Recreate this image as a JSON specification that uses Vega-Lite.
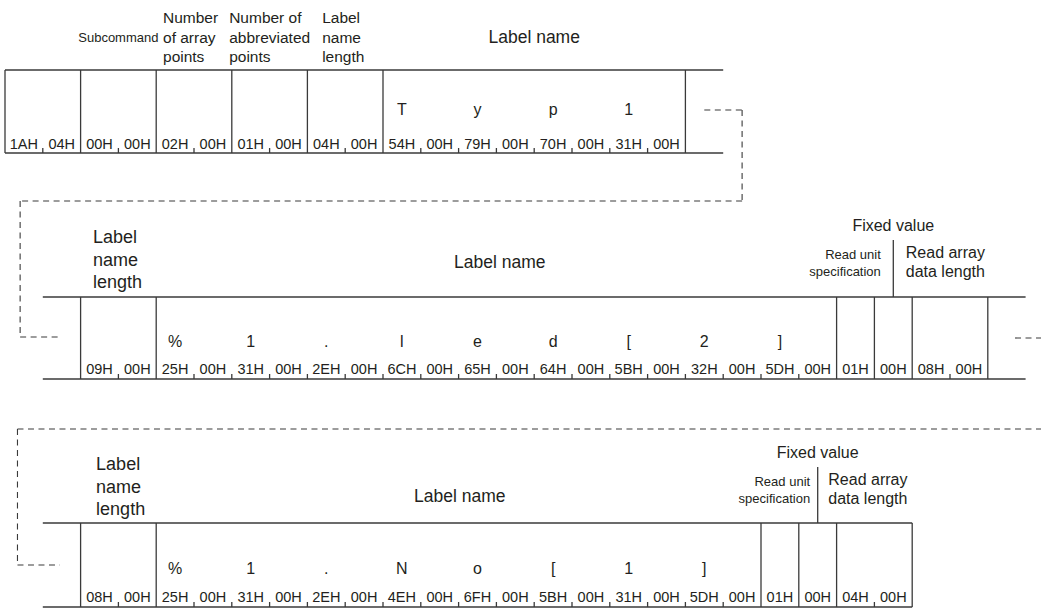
{
  "$schema": "https://vega.github.io/schema/vega-lite/v6.json",
  "width": 1041,
  "height": 608,
  "autosize": {"type": "none"},
  "padding": 0,
  "background": "white",
  "config": {"view": {"stroke": null}, "text": {"font": "Liberation Sans", "color": "#231f20"}},
  "datasets": {
    "solid": [
      {"x": 0, "y": 70, "x2": 19, "y2": 70}, {"x": 0, "y": 153, "x2": 19, "y2": 153},
      {"x": 0, "y": 70, "x2": 0, "y2": 153}, {"x": 2, "y": 70, "x2": 2, "y2": 153}, {"x": 4, "y": 70, "x2": 4, "y2": 153},
      {"x": 6, "y": 70, "x2": 6, "y2": 153}, {"x": 8, "y": 70, "x2": 8, "y2": 153}, {"x": 10, "y": 70, "x2": 10, "y2": 153},
      {"x": 18, "y": 70, "x2": 18, "y2": 153},
      {"x": 1, "y": 148, "x2": 1, "y2": 153}, {"x": 3, "y": 148, "x2": 3, "y2": 153}, {"x": 5, "y": 148, "x2": 5, "y2": 153},
      {"x": 7, "y": 148, "x2": 7, "y2": 153}, {"x": 9, "y": 148, "x2": 9, "y2": 153}, {"x": 11, "y": 148, "x2": 11, "y2": 153},
      {"x": 12, "y": 148, "x2": 12, "y2": 153}, {"x": 13, "y": 148, "x2": 13, "y2": 153}, {"x": 14, "y": 148, "x2": 14, "y2": 153},
      {"x": 15, "y": 148, "x2": 15, "y2": 153}, {"x": 16, "y": 148, "x2": 16, "y2": 153}, {"x": 17, "y": 148, "x2": 17, "y2": 153},

      {"x": 1, "y": 297, "x2": 27, "y2": 297}, {"x": 1, "y": 379, "x2": 27, "y2": 379},
      {"x": 2, "y": 297, "x2": 2, "y2": 379}, {"x": 4, "y": 297, "x2": 4, "y2": 379}, {"x": 22, "y": 297, "x2": 22, "y2": 379},
      {"x": 23, "y": 297, "x2": 23, "y2": 379}, {"x": 24, "y": 297, "x2": 24, "y2": 379}, {"x": 26, "y": 297, "x2": 26, "y2": 379},
      {"x": 3, "y": 374, "x2": 3, "y2": 379}, {"x": 5, "y": 374, "x2": 5, "y2": 379}, {"x": 6, "y": 374, "x2": 6, "y2": 379},
      {"x": 7, "y": 374, "x2": 7, "y2": 379}, {"x": 8, "y": 374, "x2": 8, "y2": 379}, {"x": 9, "y": 374, "x2": 9, "y2": 379},
      {"x": 10, "y": 374, "x2": 10, "y2": 379}, {"x": 11, "y": 374, "x2": 11, "y2": 379}, {"x": 12, "y": 374, "x2": 12, "y2": 379},
      {"x": 13, "y": 374, "x2": 13, "y2": 379}, {"x": 14, "y": 374, "x2": 14, "y2": 379}, {"x": 15, "y": 374, "x2": 15, "y2": 379},
      {"x": 16, "y": 374, "x2": 16, "y2": 379}, {"x": 17, "y": 374, "x2": 17, "y2": 379}, {"x": 18, "y": 374, "x2": 18, "y2": 379},
      {"x": 19, "y": 374, "x2": 19, "y2": 379}, {"x": 20, "y": 374, "x2": 20, "y2": 379}, {"x": 21, "y": 374, "x2": 21, "y2": 379},
      {"x": 25, "y": 374, "x2": 25, "y2": 379},
      {"x": 23.5, "y": 240, "x2": 23.5, "y2": 297},

      {"x": 1, "y": 523, "x2": 24, "y2": 523}, {"x": 1, "y": 607, "x2": 24, "y2": 607},
      {"x": 2, "y": 523, "x2": 2, "y2": 607}, {"x": 4, "y": 523, "x2": 4, "y2": 607}, {"x": 20, "y": 523, "x2": 20, "y2": 607},
      {"x": 21, "y": 523, "x2": 21, "y2": 607}, {"x": 22, "y": 523, "x2": 22, "y2": 607}, {"x": 24, "y": 523, "x2": 24, "y2": 607},
      {"x": 3, "y": 602, "x2": 3, "y2": 607}, {"x": 5, "y": 602, "x2": 5, "y2": 607}, {"x": 6, "y": 602, "x2": 6, "y2": 607},
      {"x": 7, "y": 602, "x2": 7, "y2": 607}, {"x": 8, "y": 602, "x2": 8, "y2": 607}, {"x": 9, "y": 602, "x2": 9, "y2": 607},
      {"x": 10, "y": 602, "x2": 10, "y2": 607}, {"x": 11, "y": 602, "x2": 11, "y2": 607}, {"x": 12, "y": 602, "x2": 12, "y2": 607},
      {"x": 13, "y": 602, "x2": 13, "y2": 607}, {"x": 14, "y": 602, "x2": 14, "y2": 607}, {"x": 15, "y": 602, "x2": 15, "y2": 607},
      {"x": 16, "y": 602, "x2": 16, "y2": 607}, {"x": 17, "y": 602, "x2": 17, "y2": 607}, {"x": 18, "y": 602, "x2": 18, "y2": 607},
      {"x": 19, "y": 602, "x2": 19, "y2": 607}, {"x": 23, "y": 602, "x2": 23, "y2": 607},
      {"x": 21.5, "y": 467, "x2": 21.5, "y2": 523}
    ],
    "dashed": [
      {"x": 18.5, "y": 110, "x2": 19.5, "y2": 110},
      {"x": 19.5, "y": 110, "x2": 19.5, "y2": 201},
      {"x": 19.5, "y": 201, "x2": 0.4, "y2": 201},
      {"x": 0.4, "y": 201, "x2": 0.4, "y2": 337},
      {"x": 0.4, "y": 337, "x2": 1.45, "y2": 337},
      {"x": 26.72, "y": 338, "x2": 27.45, "y2": 338},
      {"x": 0.33, "y": 429, "x2": 27.45, "y2": 429},
      {"x": 0.33, "y": 429, "x2": 0.33, "y2": 565},
      {"x": 0.33, "y": 565, "x2": 1.45, "y2": 565}
    ],
    "texts": [
      {"kind": "head", "x": 4.18, "y": 18, "text": "Number\nof array\npoints"},
      {"kind": "head", "x": 5.93, "y": 18, "text": "Number of\nabbreviated\npoints"},
      {"kind": "head", "x": 8.39, "y": 18, "text": "Label\nname\nlength"},
      {"kind": "subR", "x": 4.06, "y": 38, "text": "Subcommand"},
      {"kind": "big", "x": 14.0, "y": 38, "text": "Label name"},

      {"kind": "len", "x": 2.33, "y": 238, "text": "Label\nname\nlength"},
      {"kind": "big", "x": 13.09, "y": 262.5, "text": "Label name"},
      {"kind": "fixed", "x": 23.5, "y": 226, "text": "Fixed value"},
      {"kind": "subR", "x": 23.17, "y": 255, "text": "Read unit\nspecification"},
      {"kind": "ra", "x": 23.83, "y": 253, "text": "Read array\ndata length"},

      {"kind": "len", "x": 2.41, "y": 465, "text": "Label\nname\nlength"},
      {"kind": "big", "x": 12.03, "y": 497, "text": "Label name"},
      {"kind": "fixed", "x": 21.5, "y": 453.3, "text": "Fixed value"},
      {"kind": "subR", "x": 21.3, "y": 481.5, "text": "Read unit\nspecification"},
      {"kind": "ra", "x": 21.78, "y": 480, "text": "Read array\ndata length"},

      {"kind": "char", "x": 10.5, "y": 110, "text": "T"},
      {"kind": "char", "x": 12.5, "y": 110, "text": "y"},
      {"kind": "char", "x": 14.5, "y": 110, "text": "p"},
      {"kind": "char", "x": 16.5, "y": 110, "text": "1"},

      {"kind": "char", "x": 4.5, "y": 341.5, "text": "%"},
      {"kind": "char", "x": 6.5, "y": 341.5, "text": "1"},
      {"kind": "char", "x": 8.5, "y": 341.5, "text": "."},
      {"kind": "char", "x": 10.5, "y": 341.5, "text": "l"},
      {"kind": "char", "x": 12.5, "y": 341.5, "text": "e"},
      {"kind": "char", "x": 14.5, "y": 341.5, "text": "d"},
      {"kind": "char", "x": 16.5, "y": 341.5, "text": "["},
      {"kind": "char", "x": 18.5, "y": 341.5, "text": "2"},
      {"kind": "char", "x": 20.5, "y": 341.5, "text": "]"},

      {"kind": "char", "x": 4.5, "y": 569, "text": "%"},
      {"kind": "char", "x": 6.5, "y": 569, "text": "1"},
      {"kind": "char", "x": 8.5, "y": 569, "text": "."},
      {"kind": "char", "x": 10.5, "y": 569, "text": "N"},
      {"kind": "char", "x": 12.5, "y": 569, "text": "o"},
      {"kind": "char", "x": 14.5, "y": 569, "text": "["},
      {"kind": "char", "x": 16.5, "y": 569, "text": "1"},
      {"kind": "char", "x": 18.5, "y": 569, "text": "]"},

      {"kind": "byte", "x": 0.5, "y": 145, "text": "1AH"},
      {"kind": "byte", "x": 1.5, "y": 145, "text": "04H"},
      {"kind": "byte", "x": 2.5, "y": 145, "text": "00H"},
      {"kind": "byte", "x": 3.5, "y": 145, "text": "00H"},
      {"kind": "byte", "x": 4.5, "y": 145, "text": "02H"},
      {"kind": "byte", "x": 5.5, "y": 145, "text": "00H"},
      {"kind": "byte", "x": 6.5, "y": 145, "text": "01H"},
      {"kind": "byte", "x": 7.5, "y": 145, "text": "00H"},
      {"kind": "byte", "x": 8.5, "y": 145, "text": "04H"},
      {"kind": "byte", "x": 9.5, "y": 145, "text": "00H"},
      {"kind": "byte", "x": 10.5, "y": 145, "text": "54H"},
      {"kind": "byte", "x": 11.5, "y": 145, "text": "00H"},
      {"kind": "byte", "x": 12.5, "y": 145, "text": "79H"},
      {"kind": "byte", "x": 13.5, "y": 145, "text": "00H"},
      {"kind": "byte", "x": 14.5, "y": 145, "text": "70H"},
      {"kind": "byte", "x": 15.5, "y": 145, "text": "00H"},
      {"kind": "byte", "x": 16.5, "y": 145, "text": "31H"},
      {"kind": "byte", "x": 17.5, "y": 145, "text": "00H"},

      {"kind": "byte", "x": 2.5, "y": 369.5, "text": "09H"},
      {"kind": "byte", "x": 3.5, "y": 369.5, "text": "00H"},
      {"kind": "byte", "x": 4.5, "y": 369.5, "text": "25H"},
      {"kind": "byte", "x": 5.5, "y": 369.5, "text": "00H"},
      {"kind": "byte", "x": 6.5, "y": 369.5, "text": "31H"},
      {"kind": "byte", "x": 7.5, "y": 369.5, "text": "00H"},
      {"kind": "byte", "x": 8.5, "y": 369.5, "text": "2EH"},
      {"kind": "byte", "x": 9.5, "y": 369.5, "text": "00H"},
      {"kind": "byte", "x": 10.5, "y": 369.5, "text": "6CH"},
      {"kind": "byte", "x": 11.5, "y": 369.5, "text": "00H"},
      {"kind": "byte", "x": 12.5, "y": 369.5, "text": "65H"},
      {"kind": "byte", "x": 13.5, "y": 369.5, "text": "00H"},
      {"kind": "byte", "x": 14.5, "y": 369.5, "text": "64H"},
      {"kind": "byte", "x": 15.5, "y": 369.5, "text": "00H"},
      {"kind": "byte", "x": 16.5, "y": 369.5, "text": "5BH"},
      {"kind": "byte", "x": 17.5, "y": 369.5, "text": "00H"},
      {"kind": "byte", "x": 18.5, "y": 369.5, "text": "32H"},
      {"kind": "byte", "x": 19.5, "y": 369.5, "text": "00H"},
      {"kind": "byte", "x": 20.5, "y": 369.5, "text": "5DH"},
      {"kind": "byte", "x": 21.5, "y": 369.5, "text": "00H"},
      {"kind": "byte", "x": 22.5, "y": 369.5, "text": "01H"},
      {"kind": "byte", "x": 23.5, "y": 369.5, "text": "00H"},
      {"kind": "byte", "x": 24.5, "y": 369.5, "text": "08H"},
      {"kind": "byte", "x": 25.5, "y": 369.5, "text": "00H"},

      {"kind": "byte", "x": 2.5, "y": 597.5, "text": "08H"},
      {"kind": "byte", "x": 3.5, "y": 597.5, "text": "00H"},
      {"kind": "byte", "x": 4.5, "y": 597.5, "text": "25H"},
      {"kind": "byte", "x": 5.5, "y": 597.5, "text": "00H"},
      {"kind": "byte", "x": 6.5, "y": 597.5, "text": "31H"},
      {"kind": "byte", "x": 7.5, "y": 597.5, "text": "00H"},
      {"kind": "byte", "x": 8.5, "y": 597.5, "text": "2EH"},
      {"kind": "byte", "x": 9.5, "y": 597.5, "text": "00H"},
      {"kind": "byte", "x": 10.5, "y": 597.5, "text": "4EH"},
      {"kind": "byte", "x": 11.5, "y": 597.5, "text": "00H"},
      {"kind": "byte", "x": 12.5, "y": 597.5, "text": "6FH"},
      {"kind": "byte", "x": 13.5, "y": 597.5, "text": "00H"},
      {"kind": "byte", "x": 14.5, "y": 597.5, "text": "5BH"},
      {"kind": "byte", "x": 15.5, "y": 597.5, "text": "00H"},
      {"kind": "byte", "x": 16.5, "y": 597.5, "text": "31H"},
      {"kind": "byte", "x": 17.5, "y": 597.5, "text": "00H"},
      {"kind": "byte", "x": 18.5, "y": 597.5, "text": "5DH"},
      {"kind": "byte", "x": 19.5, "y": 597.5, "text": "00H"},
      {"kind": "byte", "x": 20.5, "y": 597.5, "text": "01H"},
      {"kind": "byte", "x": 21.5, "y": 597.5, "text": "00H"},
      {"kind": "byte", "x": 22.5, "y": 597.5, "text": "04H"},
      {"kind": "byte", "x": 23.5, "y": 597.5, "text": "00H"}
    ]
  },
  "encoding": {
    "x": {"field": "x", "type": "quantitative", "axis": null, "scale": {"domain": [-0.1323, 27.4074], "nice": false, "zero": false}},
    "y": {"field": "y", "type": "quantitative", "axis": null, "scale": {"domain": [0, 608], "reverse": true, "nice": false, "zero": false}}
  },
  "layer": [
    {
      "data": {"name": "solid"},
      "mark": {"type": "rule", "color": "#3a3a3a", "strokeWidth": 1.3},
      "encoding": {"x2": {"field": "x2"}, "y2": {"field": "y2"}}
    },
    {
      "data": {"name": "dashed"},
      "mark": {"type": "rule", "color": "#3a3a3a", "strokeWidth": 1.1, "strokeDash": [6, 4.5]},
      "encoding": {"x2": {"field": "x2"}, "y2": {"field": "y2"}}
    },
    {
      "data": {"name": "texts"},
      "transform": [{"filter": "datum.kind === 'byte'"}],
      "mark": {"type": "text", "fontSize": 14.5, "align": "center", "baseline": "middle"},
      "encoding": {"text": {"field": "text"}}
    },
    {
      "data": {"name": "texts"},
      "transform": [{"filter": "datum.kind === 'char'"}],
      "mark": {"type": "text", "fontSize": 16, "align": "center", "baseline": "middle"},
      "encoding": {"text": {"field": "text"}}
    },
    {
      "data": {"name": "texts"},
      "transform": [{"filter": "datum.kind === 'head'"}],
      "mark": {"type": "text", "fontSize": 15.5, "align": "left", "baseline": "middle", "lineBreak": "\n", "lineHeight": 19.5},
      "encoding": {"text": {"field": "text"}}
    },
    {
      "data": {"name": "texts"},
      "transform": [{"filter": "datum.kind === 'subR'"}],
      "mark": {"type": "text", "fontSize": 13, "align": "right", "baseline": "middle", "lineBreak": "\n", "lineHeight": 17},
      "encoding": {"text": {"field": "text"}}
    },
    {
      "data": {"name": "texts"},
      "transform": [{"filter": "datum.kind === 'big'"}],
      "mark": {"type": "text", "fontSize": 17.5, "align": "center", "baseline": "middle"},
      "encoding": {"text": {"field": "text"}}
    },
    {
      "data": {"name": "texts"},
      "transform": [{"filter": "datum.kind === 'len'"}],
      "mark": {"type": "text", "fontSize": 18, "align": "left", "baseline": "middle", "lineBreak": "\n", "lineHeight": 22.5},
      "encoding": {"text": {"field": "text"}}
    },
    {
      "data": {"name": "texts"},
      "transform": [{"filter": "datum.kind === 'fixed'"}],
      "mark": {"type": "text", "fontSize": 16, "align": "center", "baseline": "middle"},
      "encoding": {"text": {"field": "text"}}
    },
    {
      "data": {"name": "texts"},
      "transform": [{"filter": "datum.kind === 'ra'"}],
      "mark": {"type": "text", "fontSize": 16, "align": "left", "baseline": "middle", "lineBreak": "\n", "lineHeight": 19},
      "encoding": {"text": {"field": "text"}}
    }
  ]
}
